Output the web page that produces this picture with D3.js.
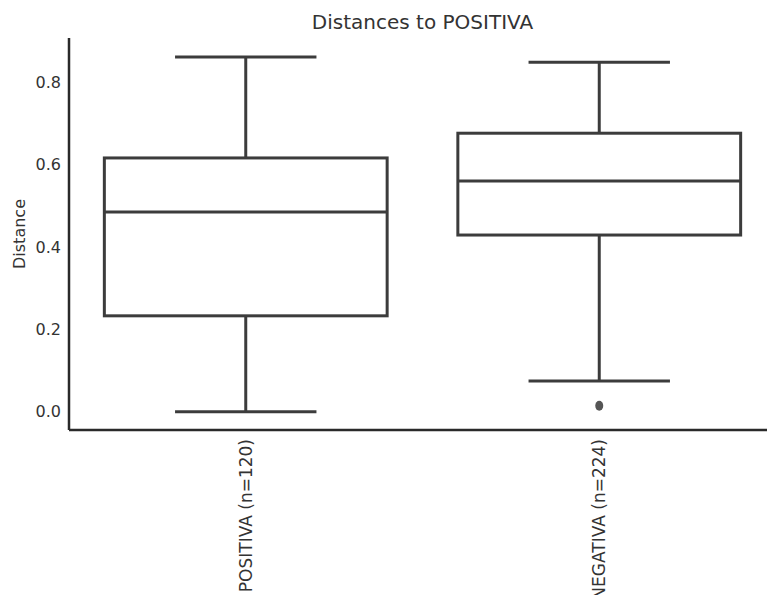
<!DOCTYPE html>
<html>
<head>
<meta charset="utf-8">
<script src="https://cdn.jsdelivr.net/npm/d3@7"></script>
<style>
  body { margin: 0; background: #fff; }
  svg { font-family: 'DejaVu Sans', sans-serif; }
</style>
</head>
<body>
<svg id="chart" width="767" height="595"></svg>
<script>
const categories = ['POSITIVA (n=120)', 'NEGATIVA (n=224)'];
const whiskerLow = [0.0, 0.075];
const q1 = [0.233, 0.429];
const median = [0.485, 0.56];
const q3 = [0.616, 0.676];
const whiskerHigh = [0.861, 0.848];
const outliers = [[], [0.015]];
const yTicks = [0.0, 0.2, 0.4, 0.6, 0.8];

const LINE = '#3c3c3c';
const TEXT = '#333';

const svg = d3.select('#chart');
const margin = { left: 69, top: 38, bottom: 430 };

const x = d3.scaleBand()
  .domain(categories)
  .range([margin.left, 776])
  .paddingInner(0.2)
  .paddingOuter(0.1);

const y = d3.scaleLinear()
  .domain([-0.044, 0.907])
  .range([margin.bottom, margin.top]);

const boxes = categories.map((c, i) => ({
  key: c,
  lo: whiskerLow[i],
  q1: q1[i],
  med: median[i],
  q3: q3[i],
  hi: whiskerHigh[i],
  out: outliers[i],
}));

// boxes
const g = svg.append('g');
boxes.forEach((d) => {
  const x0 = x(d.key);
  const w = x.bandwidth();
  const cx = x0 + w / 2;
  const grp = g.append('g');

  // whiskers
  grp.append('line')
    .attr('x1', cx).attr('x2', cx)
    .attr('y1', y(d.q3)).attr('y2', y(d.hi))
    .attr('stroke', LINE).attr('stroke-width', 3);
  grp.append('line')
    .attr('x1', cx).attr('x2', cx)
    .attr('y1', y(d.q1)).attr('y2', y(d.lo))
    .attr('stroke', LINE).attr('stroke-width', 3);
  // caps
  for (const v of [d.lo, d.hi]) {
    grp.append('line')
      .attr('x1', cx - w / 4).attr('x2', cx + w / 4)
      .attr('y1', y(v)).attr('y2', y(v))
      .attr('stroke', LINE).attr('stroke-width', 3);
  }
  // box
  grp.append('rect')
    .attr('x', x0)
    .attr('y', y(d.q3))
    .attr('width', w)
    .attr('height', y(d.q1) - y(d.q3))
    .attr('fill', '#fff')
    .attr('stroke', LINE)
    .attr('stroke-width', 3);
  // median
  grp.append('line')
    .attr('x1', x0).attr('x2', x0 + w)
    .attr('y1', y(d.med)).attr('y2', y(d.med))
    .attr('stroke', LINE).attr('stroke-width', 3);
  // outliers
  grp.selectAll('ellipse')
    .data(d.out)
    .enter()
    .append('ellipse')
    .attr('cx', cx)
    .attr('cy', (v) => y(v))
    .attr('rx', 4)
    .attr('ry', 5)
    .attr('fill', '#555');
});

// y axis
const yAxis = d3.axisLeft(y)
  .tickValues(yTicks)
  .tickFormat(d3.format('.1f'))
  .tickSize(0)
  .tickPadding(8);
const yAxisEl = svg.append('g')
  .attr('transform', `translate(${margin.left},0)`)
  .call(yAxis);
yAxisEl.select('.domain').remove();
yAxisEl.selectAll('text')
  .style('font-size', '16px')
  .style('fill', TEXT)
  .style('font-family', "'DejaVu Sans', sans-serif");

svg.append('line')
  .attr('x1', margin.left).attr('x2', margin.left)
  .attr('y1', margin.top).attr('y2', margin.bottom)
  .attr('stroke', '#2a2a2a').attr('stroke-width', 2.5);

// x axis
const xAxis = d3.axisBottom(x).tickSize(0).tickPadding(0);
const xAxisEl = svg.append('g')
  .attr('transform', `translate(0,${margin.bottom})`)
  .call(xAxis);
xAxisEl.select('.domain').remove();
xAxisEl.selectAll('text')
  .attr('transform', 'rotate(-90)')
  .attr('x', -9)
  .attr('y', 0)
  .attr('dy', '0.35em')
  .style('text-anchor', 'end')
  .style('font-size', '17px')
  .style('fill', TEXT)
  .style('font-family', "'DejaVu Sans', sans-serif");

svg.append('line')
  .attr('x1', margin.left).attr('x2', 767)
  .attr('y1', margin.bottom).attr('y2', margin.bottom)
  .attr('stroke', '#2a2a2a').attr('stroke-width', 2.5);

// title and y label
svg.append('text')
  .attr('x', (margin.left + 776) / 2)
  .attr('y', 29)
  .attr('text-anchor', 'middle')
  .style('font-size', '20px')
  .style('fill', TEXT)
  .text('Distances to POSITIVA');

svg.append('text')
  .attr('transform', `translate(25, ${(margin.top + margin.bottom) / 2}) rotate(-90)`)
  .attr('text-anchor', 'middle')
  .style('font-size', '16px')
  .style('fill', TEXT)
  .text('Distance');
</script>
</body>
</html>
